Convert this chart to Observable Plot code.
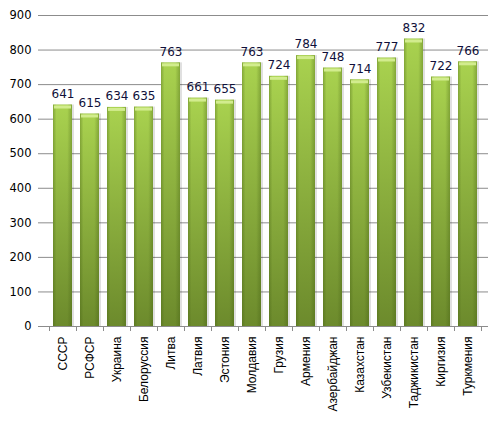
<!DOCTYPE html>
<html>
<head>
<meta charset="utf-8">
<script src="https://cdn.jsdelivr.net/npm/d3@7"></script>
<script src="https://cdn.jsdelivr.net/npm/@observablehq/plot@0.6"></script>
<style>
  body { margin: 0; background: #fff; }
  #chart svg { display: block; }
</style>
</head>
<body>
<div id="chart"></div>
<script>
const republics = ['СССР', 'РСФСР', 'Украина', 'Белоруссия', 'Литва', 'Латвия', 'Эстония', 'Молдавия',
  'Грузия', 'Армения', 'Азербайджан', 'Казахстан', 'Узбекистан', 'Таджикистан', 'Киргизия', 'Туркмения']
const values = [641, 615, 634, 635, 763, 661, 655, 763, 724, 784, 748, 714, 777, 832, 722, 766]
const yTicks = [0, 100, 200, 300, 400, 500, 600, 700, 800, 900]

const data = republics.map((name, i) => ({name, value: values[i]}))

const chart = Plot.plot({
  width: 504,
  height: 422,
  marginLeft: 42,
  marginTop: 15,
  marginRight: 16,
  marginBottom: 96,
  style: {fontFamily: 'DejaVu Sans, Verdana, sans-serif', fontSize: '11px', color: '#000', background: '#fff'},
  x: {domain: republics, padding: 0.28, label: null},
  y: {domain: [0, 900], ticks: yTicks, label: null},
  marks: [
    Plot.gridY(yTicks, {stroke: '#8c8c8c', strokeOpacity: 1}),
    // shadow
    Plot.barY(data, {x: 'name', y: 'value', fill: '#000', fillOpacity: 0.12, dx: 2}),
    Plot.barY(data, {x: 'name', y: 'value', fill: 'url(#barV)'}),
    Plot.barY(data, {x: 'name', y: 'value', fill: 'url(#barH)'}),
    // bevel on top
    Plot.tickY(data, {x: 'name', y: 'value', stroke: '#d2ec8e', strokeWidth: 3, dy: 2, inset: 1}),
    Plot.text(data, {x: 'name', y: 'value', text: d => String(d.value), dy: -11,
      fontSize: 12, fill: '#10103a', fontFamily: 'DejaVu Sans, Verdana, sans-serif'}),
    Plot.ruleY([0], {stroke: '#8c8c8c'}),
    Plot.ruleX([0], {frameAnchor: 'left', stroke: '#8c8c8c'}),
    Plot.axisY({ticks: yTicks, tickSize: 4, tickPadding: 7, stroke: '#8c8c8c', fill: '#000', fontSize: 11.5}),
    Plot.axisX({tickSize: 0, tickRotate: -90, tickPadding: 10, fontSize: 12,
      fontFamily: 'Liberation Sans, Arial, sans-serif', fill: '#000'})
  ]
})

// gradients for the cylinder-like bars
const svg = d3.select(chart)
const defs = svg.insert('defs', ':first-child')
const gv = defs.append('linearGradient').attr('id', 'barV').attr('x1', 0).attr('y1', 0).attr('x2', 0).attr('y2', 1)
gv.append('stop').attr('offset', '0%').attr('stop-color', '#a9d24f')
gv.append('stop').attr('offset', '100%').attr('stop-color', '#6c8a2c')
const gh = defs.append('linearGradient').attr('id', 'barH').attr('x1', 0).attr('y1', 0).attr('x2', 1).attr('y2', 0)
gh.append('stop').attr('offset', '0%').attr('stop-color', '#3f5a10').attr('stop-opacity', 0.35)
gh.append('stop').attr('offset', '18%').attr('stop-color', '#3f5a10').attr('stop-opacity', 0)
gh.append('stop').attr('offset', '75%').attr('stop-color', '#3f5a10').attr('stop-opacity', 0)
gh.append('stop').attr('offset', '100%').attr('stop-color', '#3f5a10').attr('stop-opacity', 0.35)

// category boundary ticks under the x axis
const x = chart.scale('x')
const y0 = 422 - 96
const step = x.step
const bounds = republics.map(r => x.apply(r) - (step - x.bandwidth) / 2)
bounds.push(bounds[bounds.length - 1] + step)
svg.append('g').attr('stroke', '#8c8c8c')
  .selectAll('line').data(bounds).join('line')
  .attr('x1', d => Math.round(d) + 0.5).attr('x2', d => Math.round(d) + 0.5)
  .attr('y1', y0).attr('y2', y0 + 5)

d3.select('#chart').append(() => chart)
</script>
</body>
</html>
